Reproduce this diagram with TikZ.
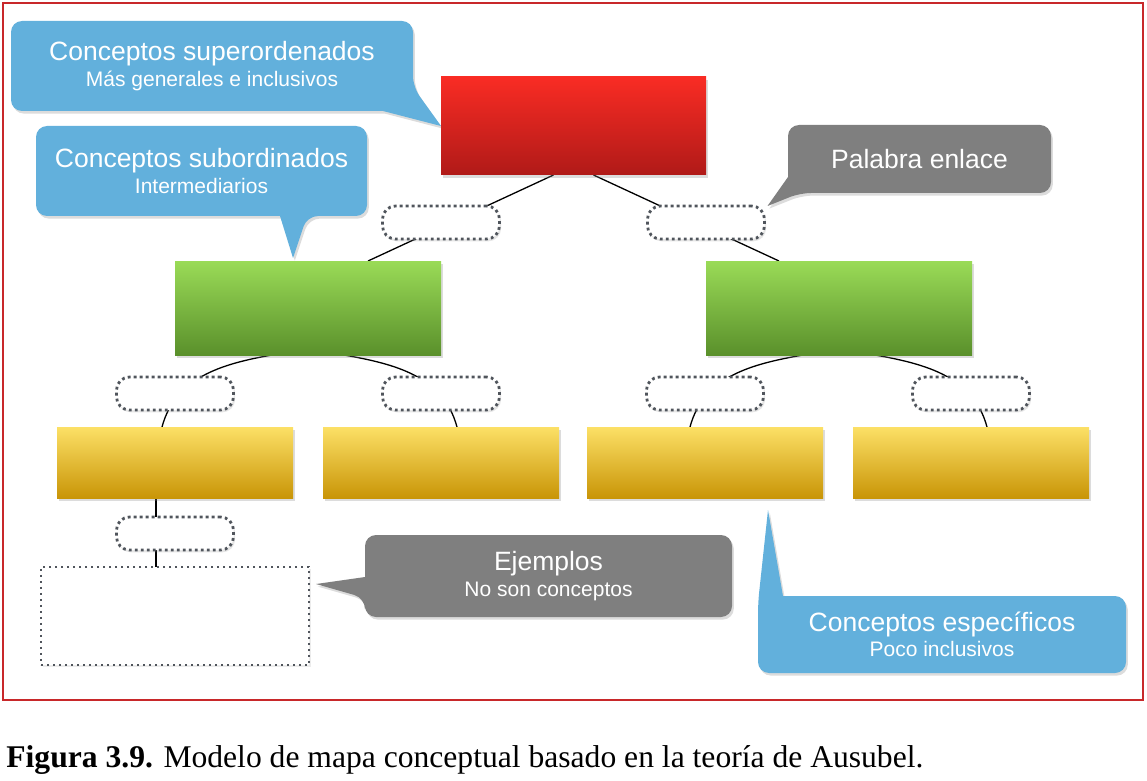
\documentclass[tikz,border=0pt]{standalone}
\usepackage{fontspec}
\setmainfont{Liberation Sans}
\newfontfamily\captionfont{Liberation Serif}
\usepackage{xcolor}
\usepackage{tikz}
\usetikzlibrary{positioning}
\usetikzlibrary{shadows}
\usetikzlibrary{backgrounds}

\definecolor{redtop}{HTML}{F92C24}
\definecolor{redbot}{HTML}{B01A18}
\definecolor{greentop}{HTML}{9ADB57}
\definecolor{greenbot}{HTML}{5A902B}
\definecolor{yellowtop}{HTML}{FCE066}
\definecolor{yellowbot}{HTML}{C99507}
\definecolor{calloutblue}{HTML}{62B0DC}
\definecolor{calloutgray}{HTML}{7F7F7F}
\definecolor{dotgray}{HTML}{50555C}
\definecolor{framered}{HTML}{C8282A}

\newcommand{\bigtxt}{\fontsize{13.25}{15}\selectfont}
\newcommand{\smalltxt}{\fontsize{10.5}{12.5}\selectfont}

\begin{document}
\begin{tikzpicture}[
      x=0.5pt, y=-0.5pt,
      myshadow/.style={drop shadow={opacity=0.28,shadow xshift=0.9pt,shadow yshift=-1.3pt}},
      mybox/.style={rectangle,inner sep=0pt,outer sep=0pt,myshadow},
      redbox/.style={mybox,minimum width=132.5pt,minimum height=49pt,top color=redtop,bottom color=redbot},
      greenbox/.style={mybox,minimum width=133pt,minimum height=47pt,top color=greentop,bottom color=greenbot},
      yellowbox/.style={mybox,minimum width=118pt,minimum height=35.5pt,top color=yellowtop,bottom color=yellowbot},
      mylink/.style={rectangle,rounded corners=6.5pt,draw=dotgray,line width=1.4pt,dash pattern=on 1.4pt off 1.6pt,
        fill=white,minimum width=58.5pt,minimum height=16.5pt,inner sep=0pt,outer sep=0pt,
        drop shadow={opacity=0.2,shadow xshift=0.8pt,shadow yshift=-1.2pt}},
      myexample/.style={rectangle,draw=dotgray,line width=1.1pt,dash pattern=on 1.1pt off 1.9pt,fill=white,
        minimum width=134pt,minimum height=49pt,inner sep=0pt,outer sep=0pt,
        drop shadow={opacity=0.15,shadow xshift=0.8pt,shadow yshift=-1.2pt}},
      mycallout/.style={text=white,align=center,inner sep=0pt,outer sep=0pt},
      myballoon/.style={myshadow,rounded corners=5.5pt},
      myline/.style={line width=0.65pt}
      ]
      \useasboundingbox (0,0) rectangle (1147,781);

      % frame
      \draw[framered, line width=0.8pt] (3,3) rectangle (1143,700);

      % concepts
      \node[redbox] (r1) at (573.5,126) {};
      \node[greenbox, below left=43pt and 0pt of r1] (g1) {};
      \node[greenbox, below right=43pt and 0pt of r1] (g2) {};

      \node[yellowbox] (y1) at (175,462.5) {};
      \node[yellowbox, right=15pt of y1] (y2) {};
      \node[yellowbox, right=14pt of y2] (y3) {};
      \node[yellowbox, right=15pt of y3] (y4) {};

      % linking words
      \node[mylink, above=11pt of g1.north east] (l1) {};
      \node[mylink, above=11pt of g2.north west] (l2) {};
      \node[mylink, above=8.5pt of y1] (l3) {};
      \node[mylink, above=8.5pt of y2] (l4) {};
      \node[mylink, above=8.5pt of y3] (l5) {};
      \node[mylink, above=8.5pt of y4] (l6) {};
      \node[mylink, below=9.5pt of y1] (l7) {};
      \node[myexample, below=8.5pt of l7] (ex) {};

      \begin{scope}[on background layer]
      \path[myline] ([xshift=-10pt]r1.south) edge ([xshift=30pt]g1.north)
      ([xshift=10pt]r1.south) edge ([xshift=-30pt]g2.north)
      ([xshift=-18pt]g1.south) edge[out=190,in=75] ([xshift=-6.5pt]y1.north)
      ([xshift=18pt]g1.south) edge[out=-10,in=105] ([xshift=8pt]y2.north)
      ([xshift=-18pt]g2.south) edge[out=190,in=75] ([xshift=-7.5pt]y3.north)
      ([xshift=18pt]g2.south) edge[out=-10,in=105] ([xshift=8pt]y4.north)
      ([xshift=-9.5pt]y1.south) edge ([xshift=-9.5pt]ex.north)
      ;
      \end{scope}

      % callouts
      \node[mycallout, minimum width=201pt, minimum height=45pt] (c1) at (212,66)
        {{\bigtxt Conceptos superordenados}\\[1pt]{\smalltxt Más generales e inclusivos}};
      \node[mycallout, minimum width=165.5pt, minimum height=45pt] (c2) at (201.5,171)
        {{\bigtxt Conceptos subordinados}\\[1pt]{\smalltxt Intermediarios}};
      \node[mycallout, minimum width=131.5pt, minimum height=34pt] (c3) at (919.5,159)
        {\bigtxt Palabra enlace};
      \node[mycallout, minimum width=183.5pt, minimum height=41pt] (c4) at (548.5,576)
        {{\bigtxt Ejemplos}\\[1pt]{\smalltxt No son conceptos}};
      \node[mycallout, minimum width=184pt, minimum height=38.5pt] (c5) at (942,634.5)
        {{\bigtxt Conceptos específicos}\\[0.5pt]{\smalltxt Poco inclusivos}};

      \coordinate (tipsub) at ([xshift=-7.5pt,yshift=1.5pt]g1.north);
      \coordinate (tippal) at ([xshift=1.5pt]l2.north east);
      \coordinate (tipex) at ([xshift=3.5pt,yshift=16pt]ex.east);
      \coordinate (tipspec) at ([xshift=31.5pt,yshift=-6pt]y3.south);

      \begin{scope}[on background layer]
      \fill[calloutblue, myballoon] (c1.north west) -- (c1.north east) -- ([yshift=12pt]c1.south east)
        [sharp corners] -- (r1.west) -- ([xshift=-15pt]c1.south east) [rounded corners=5.5pt] -- (c1.south west) -- cycle;
      \fill[calloutblue, myballoon] (c2.north west) -- (c2.north east) -- (c2.south east) -- ([xshift=-30pt]c2.south east)
        [sharp corners] -- (tipsub) -- ([xshift=-43.5pt]c2.south east) [rounded corners=5.5pt] -- (c2.south west) -- cycle;
      \fill[calloutgray, myballoon] (c3.north west) -- (c3.north east) -- (c3.south east) -- ([xshift=6pt]c3.south west)
        [sharp corners] -- (tippal) -- ([yshift=8pt]c3.south west) [rounded corners=5.5pt] -- cycle;
      \fill[calloutgray, myballoon] (c4.north west) -- (c4.north east) -- (c4.south east) -- (c4.south west) -- ([yshift=-11pt]c4.west)
        [sharp corners] -- (tipex) -- ([yshift=-0.5pt]c4.west) [rounded corners=5.5pt] -- cycle;
      \fill[calloutblue, myballoon] (c5.north east) -- (c5.south east) -- (c5.south west) -- ([yshift=-3.5pt]c5.north west)
        [sharp corners] -- (tipspec) -- ([xshift=12.5pt]c5.north west) [rounded corners=5.5pt] -- cycle;
      \end{scope}

      \node[anchor=base west, inner sep=0pt] (caption) at (6,767)
        {\captionfont\fontsize{15.8}{18}\selectfont\textbf{Figura 3.9.} Modelo de mapa conceptual basado en la teoría de Ausubel.};

\end{tikzpicture}
\end{document}
